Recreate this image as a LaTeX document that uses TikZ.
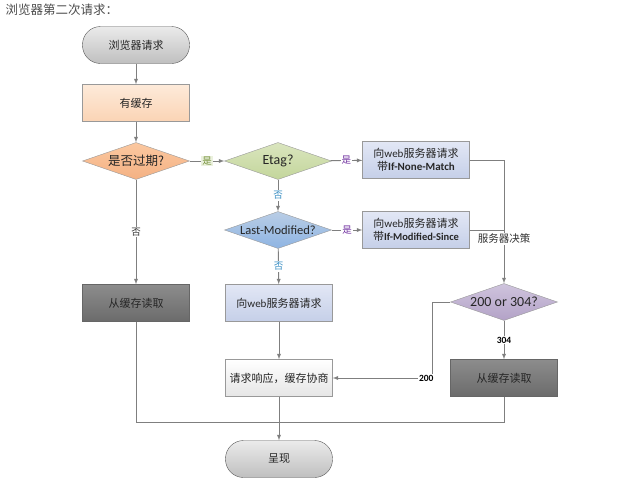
\documentclass[tikz,border=0pt]{standalone}
\usepackage{fontspec}
\setmainfont{Carlito}
\newfontfamily\cjk{Noto Sans CJK SC}
\usetikzlibrary{shapes.geometric,positioning}
\definecolor{edgegray}{HTML}{7F7F7F}
\definecolor{olivetxt}{HTML}{76923C}
\definecolor{purpletxt}{HTML}{7030A0}
\definecolor{bluetxt}{HTML}{3A8FC4}
\tikzset{
    pill/.style ={
        shape=rectangle,
        rounded corners=18pt,
        draw=black!65,
        top color=black!8,
        bottom color=black!25,
        text=black!85,
        minimum width=107pt,
        minimum height=37pt,
        font=\cjk\fontsize{11}{13}\selectfont
    },
    box/.style ={
        shape=rectangle,
        draw=black!40,
        text=black!85,
        minimum width=107pt,
        minimum height=37pt,
        align=center,
        font=\cjk\fontsize{11}{13}\selectfont
    },
    choice/.style ={
        shape=diamond,
        aspect=2.9,
        inner sep=0pt,
        draw=black!40,
        text=black!85,
        minimum width=107pt,
        minimum height=37pt,
        font=\fontsize{14}{16}\selectfont
    },
    line/.style ={
        draw=edgegray,
        line width=0.9pt,
        ->,
        >=latex
    },
    plain/.style ={
        draw=edgegray,
        line width=0.9pt
    },
    tag/.style ={
        fill=white,
        inner sep=1pt,
        font=\cjk\fontsize{9.5}{11}\selectfont
    }
}

\begin{document}
\begin{tikzpicture}[x=1pt,y=-1pt]
    \useasboundingbox (0,0) rectangle (640,490);
    \node[anchor=west, text=black!70, font=\cjk\fontsize{12.5}{14}\selectfont] (title) at(2,10) {浏览器第二次请求：};

    \node[pill] (browser) at(136,45) {浏览器请求};
    \node[box, top color={rgb,255:red,253;green,234;blue,218}, bottom color={rgb,255:red,251;green,212;blue,180}] (hascache) at(136,103) {有缓存};
    \node[choice, top color={rgb,255:red,251;green,200;blue,160}, bottom color={rgb,255:red,244;green,177;blue,131}, font=\cjk\fontsize{12.5}{14}\selectfont] (expired) at(136,161) {是否过期?};
    \node[choice, top color={rgb,255:red,218;green,229;blue,190}, bottom color={rgb,255:red,195;green,214;blue,155}] (etag) at(278,161) {Etag?};
    \node[box, top color={rgb,255:red,226;green,231;blue,245}, bottom color={rgb,255:red,197;green,207;blue,232}] (nonematch) at(416,160) {向{\fontspec{Carlito}web}服务器请求\\带{\fontspec{Carlito}\bfseries\fontsize{11}{13}\selectfont If-None-Match}};
    \node[choice, top color={rgb,255:red,185;green,205;blue,229}, bottom color={rgb,255:red,142;green,180;blue,227}, font=\fontsize{12.5}{14}\selectfont] (lastmod) at(278,230) {Last-Modified?};
    \node[box, top color={rgb,255:red,226;green,231;blue,245}, bottom color={rgb,255:red,197;green,207;blue,232}] (modsince) at(416,230) {向{\fontspec{Carlito}web}服务器请求\\带{\fontspec{Carlito}\bfseries\fontsize{10.5}{12}\selectfont If-Modified-Since}};
    \node[box, draw=black!60, top color=black!45, bottom color=black!58] (localread) at(136,303) {从缓存读取};
    \node[box, top color={rgb,255:red,226;green,231;blue,245}, bottom color={rgb,255:red,197;green,207;blue,232}] (webreq) at(279,303) {向{\fontspec{Carlito}web}服务器请求};
    \node[box, top color=white, bottom color=black!10] (response) at(279,378) {请求响应，缓存协商};
    \node[choice, top color={rgb,255:red,207;green,196;blue,221}, bottom color={rgb,255:red,179;green,162;blue,199}] (code) at(504,302) {200 or 304?};
    \node[box, draw=black!60, top color=black!45, bottom color=black!58] (cacheread) at(504,378) {从缓存读取};
    \node[pill] (show) at(279,459) {呈现};
    \coordinate (merge) at(279,422);

    % decisions
    \draw[line] (browser) -- (hascache);
    \draw[line] (hascache) -- (expired);
    \draw[line] (expired) -- node[tag, text=olivetxt, fill={rgb,255:red,235;green,241;blue,222}] {是} (etag);
    \draw[line] (expired) -- node[tag, text=black!80] {否} (localread);
    \draw[line] (etag) -- node[tag, text=purpletxt] {是} (nonematch);
    \draw[line] (etag) -- node[tag, text=bluetxt] {否} (lastmod);
    \draw[line] (lastmod) -- node[tag, text=purpletxt] {是} (modsince);
    \draw[line] (lastmod) -- node[tag, text=bluetxt] {否} (webreq);
    \draw[line] (webreq) -- (response);

    % server side
    \draw[plain] (modsince.east) -- (code.north |- modsince.east);
    \draw[line] (nonematch.east) -| node[pos=0.82, tag, text=black!80, font=\cjk\fontsize{10.5}{12}\selectfont] {服务器决策} (code.north);
    \draw[line] (code.west) -- ++(-18,0) |- node[pos=0.53, tag, text=black, font=\fontsize{9.5}{11}\selectfont\bfseries] {200} (response.east);
    \draw[line] (code) -- node[tag, text=black, font=\fontsize{9.5}{11}\selectfont\bfseries] {304} (cacheread);

    % output
    \draw[plain] (localread.south) |- (merge);
    \draw[plain] (cacheread.south) |- (merge);
    \draw[line] (response) -- (show);
\end{tikzpicture}
\end{document}
